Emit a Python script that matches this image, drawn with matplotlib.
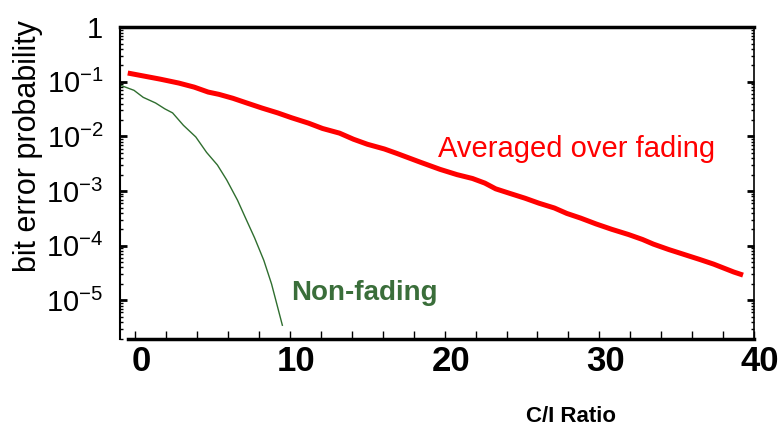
# Bit error probability vs C/I ratio: Rayleigh-averaged vs non-fading channel

import matplotlib.pyplot as plt
from matplotlib.ticker import FixedLocator, LogLocator, NullFormatter
from matplotlib.transforms import ScaledTranslation

plt.rcParams['font.family'] = ['Liberation Sans', 'DejaVu Sans']
plt.rcParams['mathtext.fontset'] = 'custom'
plt.rcParams['mathtext.rm'] = 'Liberation Sans'

# averaged over fading
fade_x = [-0.5, 1.6, 2.8, 3.8, 4.7, 5.4, 6.3, 7.2, 8.2, 9.2, 10.1, 11.2, 12.1,
          13.2, 14.1, 15.0, 16.1, 16.9, 18.4, 19.7, 20.8, 21.8, 22.6, 23.3,
          24.2, 25.2, 26.1, 27.1, 27.9, 28.8, 29.8, 30.8, 31.9, 32.8, 33.5,
          34.5, 35.5, 36.5, 37.4, 38.7, 39.3]
fade_y = [0.145, 0.112, 0.095, 0.080, 0.065, 0.059, 0.050, 0.041, 0.033,
          0.027, 0.022, 0.0175, 0.014, 0.0115, 0.0089, 0.0072, 0.0059,
          0.0049, 0.0034, 0.0025, 0.0020, 0.0017, 0.0014, 0.0011, 9.1e-4,
          7.4e-4, 6.0e-4, 4.9e-4, 3.9e-4, 3.2e-4, 2.5e-4, 2.0e-4, 1.6e-4,
          1.3e-4, 1.07e-4, 8.5e-5, 6.9e-5, 5.6e-5, 4.6e-5, 3.3e-5, 2.9e-5]

# non-fading
nf_x = [-1.0, -0.1, 0.5, 1.3, 1.9, 2.4, 3.1, 3.9, 4.6, 5.3, 5.9, 6.6, 7.1,
        7.7, 8.3, 8.8, 9.2, 9.5]
nf_y = [0.087, 0.070, 0.052, 0.041, 0.032, 0.027, 0.016, 0.0098, 0.0051,
        0.0030, 0.0016, 6.8e-4, 3.3e-4, 1.4e-4, 5.4e-5, 2.0e-5, 7.4e-6, 3.5e-6]

x_ticks = [0, 10, 20, 30, 40]
y_ticks = [1, 1e-1, 1e-2, 1e-3, 1e-4, 1e-5]
y_labels = ['1', r'$10^{-1}$', r'$10^{-2}$', r'$10^{-3}$', r'$10^{-4}$', r'$10^{-5}$']

fig = plt.figure(figsize=(7.82, 4.32), dpi=100)
ax = fig.add_axes([0.1535, 0.215, 0.8105, 0.722])

ax.plot(fade_x, fade_y, color='#ff0000', linewidth=3.6, solid_capstyle='butt')
ax.plot(nf_x, nf_y, color='#2f6e2f', linewidth=1.0)

ax.set_yscale('log')
ax.set_xlim(-1, 40)
ax.set_ylim(1.95e-6, 1)

# axes styling
ax.spines['top'].set_linewidth(2.5)
ax.spines['bottom'].set_linewidth(2.5)
ax.spines['left'].set_linewidth(1.5)
ax.spines['right'].set_linewidth(1.2)
ax.spines['bottom'].set_bounds(-0.5, 40)

ax.xaxis.set_major_locator(FixedLocator(x_ticks))
ax.xaxis.set_minor_locator(FixedLocator(list(range(2, 40, 2))))
ax.set_xticklabels([str(t) for t in x_ticks], fontsize=25, fontweight='bold')
ax.tick_params(axis='x', which='both', direction='in', length=6, width=1,
               top=False, pad=4)
shift = ScaledTranslation(6 / 100, 0, fig.dpi_scale_trans)
for lbl in ax.get_xticklabels():
    lbl.set_transform(lbl.get_transform() + shift)

ax.yaxis.set_major_locator(FixedLocator(y_ticks))
ax.set_yticklabels(y_labels, fontsize=21)
ax.yaxis.set_minor_locator(LogLocator(base=10, subs=range(2, 10)))
ax.yaxis.set_minor_formatter(NullFormatter())
ax.tick_params(axis='y', which='major', direction='in', length=5, width=2,
               right=True, pad=12)
ax.tick_params(axis='y', which='minor', direction='in', length=2.5, width=1,
               right=True)

ax.set_ylabel('bit error probability', fontsize=22)
ax.yaxis.set_label_coords(-0.122, 0.62)
fig.text(0.73, 0.035, 'C/I Ratio', fontsize=16, fontweight='bold',
         ha='center', va='center')

ax.text(0.72, 0.608, 'Averaged over fading', color='#ff0000', fontsize=21,
        transform=ax.transAxes, ha='center', va='center')
ax.text(0.385, 0.148, 'Non-fading', color='#3a6e3a', fontsize=20,
        fontweight='bold', transform=ax.transAxes, ha='center', va='center')

fig.savefig('out.png', dpi=100)
